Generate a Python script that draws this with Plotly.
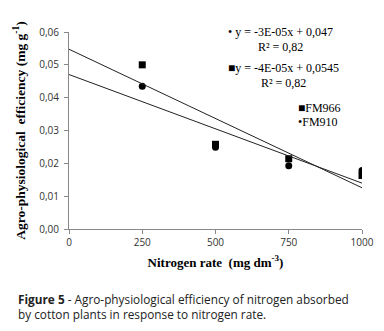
import numpy as np
import plotly.graph_objects as go

# Data
nitrogen_rate = [250, 500, 750, 1000]
fm966 = [0.0500, 0.0258, 0.0214, 0.0163]
fm910 = [0.0435, 0.0249, 0.0193, 0.0178]
x_ticks = [0, 250, 500, 750, 1000]
y_ticks = [0.00, 0.01, 0.02, 0.03, 0.04, 0.05, 0.06]

serif = "Liberation Serif"
sans = "Open Sans"

# page body has an 8px margin; work in window pixel coordinates
OFF = 8
W, H = 384 - OFF, 331 - OFF
L, T = 69 - OFF, 32 - OFF
R = 384 - 362
B = 331 - 229
PW, PH = W - L - R, H - T - B


def px(x):
    return (x - OFF - L) / PW


def py(y):
    return 1 - (y - OFF - T) / PH


fig = go.Figure()

fig.add_trace(go.Scatter(x=nitrogen_rate, y=fm966, mode="markers", name="FM966",
                         marker=dict(symbol="square", size=7, color="black")))
fig.add_trace(go.Scatter(x=nitrogen_rate, y=fm910, mode="markers", name="FM910",
                         marker=dict(symbol="circle", size=7, color="black")))

# Linear trendlines from data
line_x = np.array([0, 1000])
for series in (fm966, fm910):
    slope, intercept = np.polyfit(nitrogen_rate, series, 1)
    fig.add_trace(go.Scatter(x=line_x, y=slope * line_x + intercept, mode="lines",
                             line=dict(color="#222222", width=1), showlegend=False,
                             hoverinfo="skip"))

ann_font = dict(family=serif, size=12, color="black")
anns = [
    ("• y = -3E-05x + 0,047", 280, 32),
    ("R² = 0,82", 280, 47),
    ("■y = -4E-05x + 0,0545", 283, 68),
    ("R² = 0,82", 283, 83),
]
for txt, xc, yc in anns:
    fig.add_annotation(text=txt, xref="paper", yref="paper", x=px(xc), y=py(yc),
                       showarrow=False, font=ann_font, xanchor="center", yanchor="middle")

for txt, ypx in (("■FM966", 108), ("•FM910", 122)):
    fig.add_annotation(text=txt, xref="paper", yref="paper", x=px(296), y=py(ypx),
                       showarrow=False, font=ann_font, xanchor="left", yanchor="middle")

# Caption
fig.add_annotation(
    text="<b>Figure 5</b> - Agro-physiological efficiency of nitrogen absorbed<br>by cotton plants in response to nitrogen rate.",
    xref="paper", yref="paper", x=px(16), y=py(289),
    showarrow=False, align="left", xanchor="left", yanchor="top",
    font=dict(family=sans, size=11.8, color="#222222"))

fig.update_layout(
    width=W, height=H,
    margin=dict(l=L, r=R, t=T, b=B),
    paper_bgcolor="white", plot_bgcolor="white",
    separators=",.",
    showlegend=False,
    xaxis=dict(range=[0, 1000], tickvals=x_ticks, showgrid=False, zeroline=False,
               automargin=False,
               showline=True, linecolor="#888888", linewidth=1,
               ticks="outside", ticklen=4, tickcolor="#888888",
               tickfont=dict(family=sans, size=10, color="#333333"),
               title=dict(text="<b>Nitrogen rate  (mg dm<sup>-3</sup>)</b>",
                          font=dict(family=serif, size=13, color="black"), standoff=9)),
    yaxis=dict(range=[0, 0.06], tickvals=y_ticks, tickformat=".2f", showgrid=False,
               zeroline=False, automargin=False,
               showline=True, linecolor="#888888", linewidth=1,
               ticks="outside", ticklen=4, tickcolor="#888888", ticklabelstandoff=3,
               tickfont=dict(family=sans, size=10, color="#333333"),
               title=dict(text="<b>Agro-physiological  efficiency (mg g<sup>-1</sup>)</b>",
                          font=dict(family=serif, size=13.5, color="black"), standoff=10)),
)

fig.write_html("out.html")
